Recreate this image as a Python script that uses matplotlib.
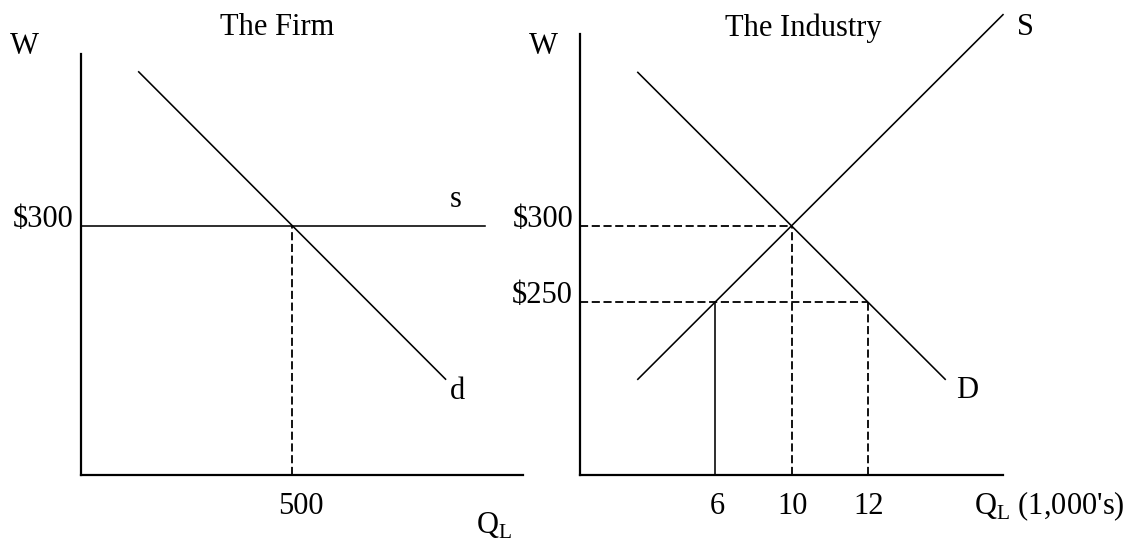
import matplotlib
matplotlib.use("Agg")
import matplotlib.pyplot as plt

plt.rcParams['font.family'] = ['Liberation Serif', 'DejaVu Serif']
plt.rcParams['font.size'] = 22

# schematic units: x = distance from the W axis, y = wage in dollars
wage_eq = 300
wage_floor = 250
wage_labels = ["\\$300", "\\$250"]

q_eq = 139           # equilibrium position (firm: 500, industry: 10)
q_supplied = 89      # industry quantity supplied at $250
q_demanded = 189     # industry quantity demanded at $250
firm_q_label = "500"
industry_q_labels = ["6", "10", "12"]

firm_d_x = [38, 240]
firm_d_y = [401, 199]
firm_s_x = [0, 266]

ind_S_x = [38, 278]
ind_S_y = [199, 439]
ind_D_x = [38, 240]
ind_D_y = [401, 199]

W_MIN = 136
DASH = (0, (4.5, 2))
LW = 1.15
DLW = 1.3


def setup_axes(ax, xmax, ymax):
    ax.set_xlim(0, xmax)
    ax.set_ylim(W_MIN, ymax)
    for side in ['top', 'right']:
        ax.spines[side].set_visible(False)
    for side in ['left', 'bottom']:
        ax.spines[side].set_linewidth(1.6)
    ax.set_xticks([])
    ax.set_yticks([])
    ax.patch.set_alpha(0)


fig = plt.figure(figsize=(11.32, 5.42), dpi=100)

# ---- The Firm ----
ax1 = fig.add_axes([81 / 1132, 67 / 542, 442 / 1132, 421.4 / 542])
setup_axes(ax1, 291, 413)
ax1.plot(firm_s_x, [wage_eq, wage_eq], color='black', lw=LW, clip_on=False)
ax1.plot(firm_d_x, firm_d_y, color='black', lw=LW, clip_on=False)
ax1.plot([q_eq, q_eq], [W_MIN, wage_eq], color='black', lw=DLW, linestyle=DASH)

ax1.text(-37.5, 412.8, "W", ha='center', va='baseline')
ax1.text(129, 425, "The Firm", ha='center', va='baseline')
ax1.text(-5, wage_eq - 1, wage_labels[0], ha='right', va='baseline')
ax1.text(243, 312, "s", ha='left', va='baseline')
ax1.text(243, 186, "d", ha='left', va='baseline')
ax1.text(q_eq + 6, 110.5, firm_q_label, ha='center', va='baseline')
ax1.text(260, 97.4, r"Q$_{\mathregular{L}}$", ha='left', va='baseline')

# ---- The Industry ----
ax2 = fig.add_axes([580 / 1132, 67 / 542, 423 / 1132, 441.2 / 542])
setup_axes(ax2, 278, 426.4)
ax2.plot(ind_S_x, ind_S_y, color='black', lw=LW, clip_on=False)
ax2.plot(ind_D_x, ind_D_y, color='black', lw=LW, clip_on=False)

ax2.plot([0, q_eq], [wage_eq, wage_eq], color='black', lw=DLW, linestyle=DASH)
ax2.plot([0, q_demanded], [wage_floor, wage_floor], color='black', lw=DLW, linestyle=DASH)
ax2.plot([q_eq, q_eq], [W_MIN, wage_eq], color='black', lw=DLW, linestyle=DASH)
ax2.plot([q_demanded, q_demanded], [W_MIN, wage_floor], color='black', lw=DLW, linestyle=DASH)
ax2.plot([q_supplied, q_supplied], [W_MIN, wage_floor], color='black', lw=LW)

ax2.text(-24.3, 412.8, "W", ha='center', va='baseline')
ax2.text(147, 425, "The Industry", ha='center', va='baseline')
ax2.text(-4.6, wage_eq - 1, wage_labels[0], ha='right', va='baseline')
ax2.text(-4.6, wage_floor - 1, wage_labels[1], ha='right', va='baseline')
ax2.text(287, 425.3, "S", ha='left', va='baseline')
ax2.text(247, 186.8, "D", ha='left', va='baseline')
for pos, lab in zip([q_supplied, q_eq, q_demanded], industry_q_labels):
    ax2.text(pos + 1, 110.5, lab, ha='center', va='baseline')
ax2.text(259, 110, r"Q$_{\mathregular{L}}$ (1,000's)", ha='left', va='baseline')

fig.savefig("out.png", dpi=100)
